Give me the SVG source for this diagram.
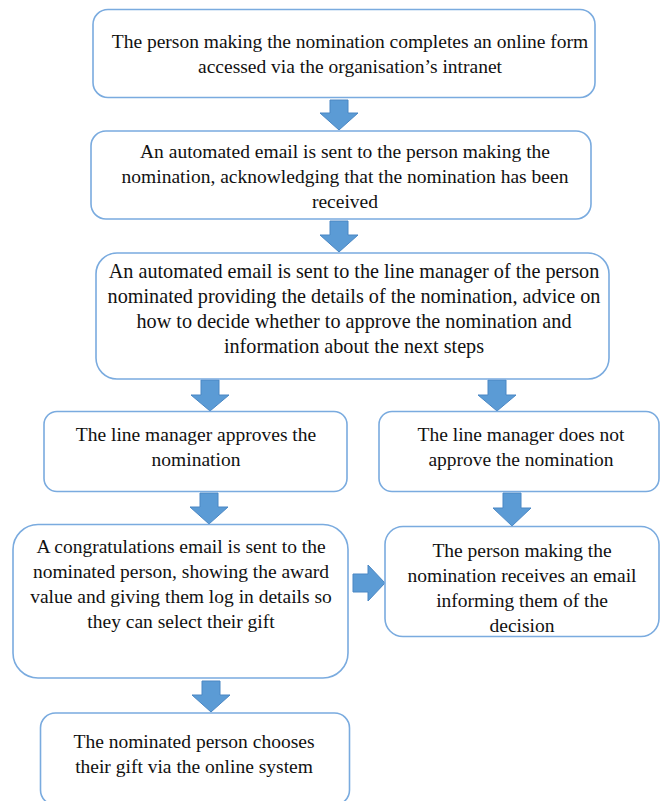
<svg xmlns="http://www.w3.org/2000/svg" width="660" height="801" viewBox="0 0 660 801">
  <style>
    .box { fill: #ffffff; stroke: #7aabdf; stroke-width: 1.6; }
    .arrow { fill: #5b9bd5; stroke: #4a87c4; stroke-width: 1; stroke-linejoin: miter; }
    .label { font-family: "Liberation Serif", "Times New Roman", serif; font-size: 19.5px; fill: #111111; text-anchor: middle; }
    .wide { font-size: 20.2px; }
  </style>
  <rect width="660" height="801" fill="#ffffff"/>

  <!-- connectors: block arrows between steps -->
  <g id="connectors">
    <polygon class="arrow" points="330,100 348,100 348,113 358,113 339,130 320,113 330,113"/>
    <polygon class="arrow" points="330,221 348,221 348,235 358,235 339,252 320,235 330,235"/>
    <polygon class="arrow" points="201,380 219,380 219,395 229,395 210,411 191,395 201,395"/>
    <polygon class="arrow" points="488,380 506,380 506,395 516,395 497,411 478,395 488,395"/>
    <polygon class="arrow" points="200,493 218,493 218,507 228,507 209,524 190,507 200,507"/>
    <polygon class="arrow" points="503,493 521,493 521,508 531,508 512,526 493,508 503,508"/>
    <polygon class="arrow" points="202,681 220,681 220,695 230,695 211,712 192,695 202,695"/>
    <polygon class="arrow" points="353,574 368,574 368,565 385,583 368,601 368,592 353,592"/>
  </g>

  <g id="step-online-form">
    <rect class="box" x="93" y="9.5" width="502" height="88" rx="15"/>
    <text class="label" x="350" y="48">The person making the nomination completes an online form</text>
    <text class="label" x="350" y="73">accessed via the organisation’s intranet</text>
  </g>

  <g id="step-ack-email">
    <rect class="box" x="91" y="131" width="500" height="88" rx="15"/>
    <text class="label" x="345" y="158">An automated email is sent to the person making the</text>
    <text class="label" x="345" y="183">nomination, acknowledging that the nomination has been</text>
    <text class="label" x="345" y="208">received</text>
  </g>

  <g id="step-manager-email">
    <rect class="box" x="96" y="253" width="513" height="126" rx="21"/>
    <text class="label wide" x="354" y="278">An automated email is sent to the line manager of the person</text>
    <text class="label wide" x="354" y="303">nominated providing the details of the nomination, advice on</text>
    <text class="label wide" x="354" y="328">how to decide whether to approve the nomination and</text>
    <text class="label wide" x="354" y="353">information about the next steps</text>
  </g>

  <g id="step-approved">
    <rect class="box" x="44" y="411.5" width="303" height="80" rx="13"/>
    <text class="label" x="196" y="441">The line manager approves the</text>
    <text class="label" x="196" y="466">nomination</text>
  </g>

  <g id="step-not-approved">
    <rect class="box" x="379" y="411.5" width="280" height="80" rx="13"/>
    <text class="label" x="521" y="441">The line manager does not</text>
    <text class="label" x="521" y="466">approve the nomination</text>
  </g>

  <g id="step-congratulations">
    <rect class="box" x="13" y="524.5" width="335" height="153.5" rx="25"/>
    <text class="label" x="181" y="553">A congratulations email is sent to the</text>
    <text class="label" x="181" y="578">nominated person, showing the award</text>
    <text class="label" x="181" y="603">value and giving them log in details so</text>
    <text class="label" x="181" y="628">they can select their gift</text>
  </g>

  <g id="step-decision-email">
    <rect class="box" x="385" y="526.5" width="274" height="110" rx="18"/>
    <text class="label" x="522" y="557">The person making the</text>
    <text class="label" x="522" y="582">nomination receives an email</text>
    <text class="label" x="522" y="607">informing them of the</text>
    <text class="label" x="522" y="632">decision</text>
  </g>

  <g id="step-choose-gift">
    <rect class="box" x="40.5" y="713" width="309" height="92" rx="15"/>
    <text class="label" x="194" y="748">The nominated person chooses</text>
    <text class="label" x="194" y="773">their gift via the online system</text>
  </g>
</svg>
